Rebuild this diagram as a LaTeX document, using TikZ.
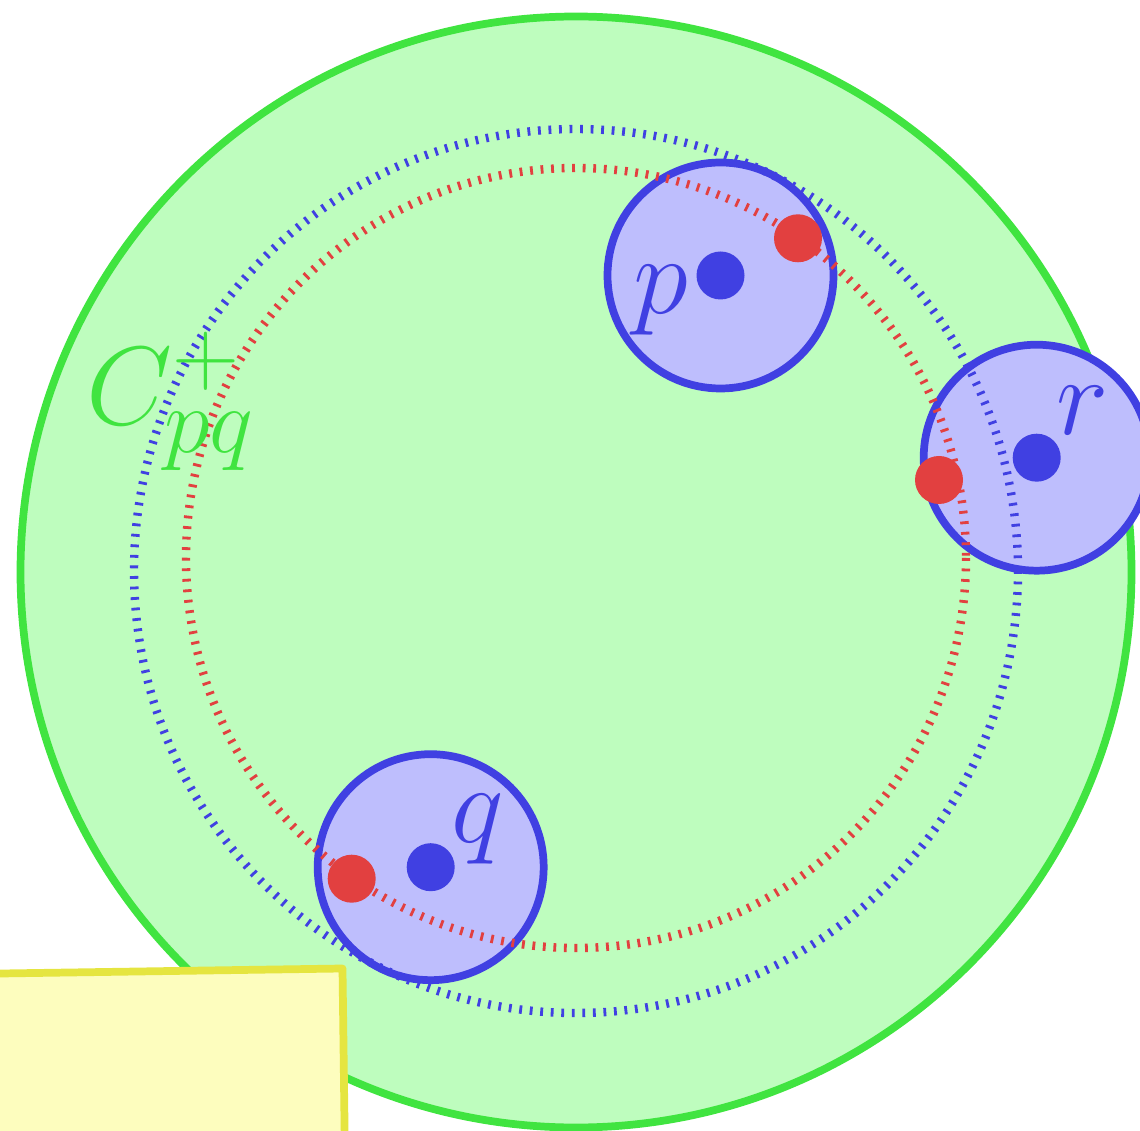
\documentclass[tikz,border=0pt]{standalone}
\usepackage{amsmath}
\usepackage{tikz}
\usetikzlibrary{calc, positioning}
\definecolor{ringgreen}{RGB}{64,228,64}
\definecolor{regiongreen}{RGB}{190,253,190}
\definecolor{ptblue}{RGB}{64,64,226}
\definecolor{diskblue}{RGB}{190,190,253}
\definecolor{ptred}{RGB}{226,64,64}
\definecolor{boxyellow}{RGB}{229,229,64}
\definecolor{boxfill}{RGB}{253,253,190}

\begin{document}
\begin{tikzpicture}[x=0.02cm, y=-0.02cm,
  disk/.style={draw=ptblue, fill=diskblue, line width=4.4pt},
  orbit/.style={line width=4.8pt, dash pattern=on 1.6pt off 4.4pt},
  lab/.style={inner sep=0pt, font=\Huge, scale=2.55}]
  \useasboundingbox (0,0) rectangle (1140,1131);
  \clip (0,0) rectangle (1140,1131);
  \coordinate (o) at (576,572);
  \coordinate (p) at (720.5,275.5);
  \coordinate (r) at (1036.7,457.7);
  \coordinate (q) at (430.7,867.2);
  \coordinate (ep) at (798,238.3);
  \coordinate (er) at (939,480);
  \coordinate (eq) at (351.7,878.7);
  \fill[regiongreen, draw=ringgreen, line width=4.4pt] (o) circle (555.5);
  \foreach \c in {p,r,q}
    \draw[disk] (\c) circle (113);
  % the two dotted orbits
  \draw[orbit, ptblue] (576,571) circle (442);
  \draw[orbit, ptred] (576,558) circle (390);
  \foreach \c in {p,r,q}
    \fill[ptblue] (\c) circle (24);
  \foreach \c in {ep,er,eq}
    \fill[ptred] (\c) circle (24);
  \node[lab, text=ptblue] (plab) at (660.5,300) {$p$};
  \node[lab, text=ptblue] (rlab) at (1082.5,410.5) {$r$};
  \node[lab, text=ptblue] (qlab) at (478,829.5) {$q$};
  \node[lab, text=ringgreen] (clab) at (171,401) {$C^{+}_{pq}$};
  \draw[boxyellow, fill=boxfill, line width=4.4pt, line join=round]
    (-20,973.8) -- (342.5,968.5) -- (345,1160) -- (-20,1160) -- cycle;
\end{tikzpicture}
\end{document}
